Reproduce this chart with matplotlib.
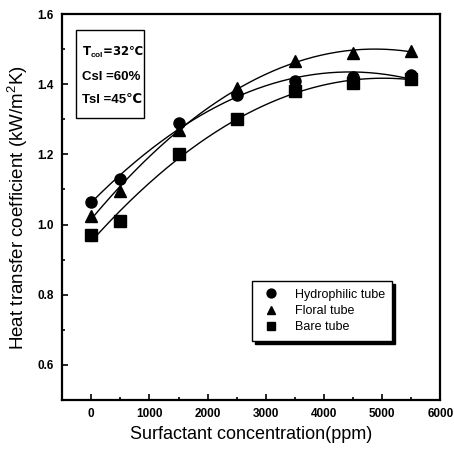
import numpy as np
import matplotlib
matplotlib.use("Agg")
import matplotlib.pyplot as plt
from matplotlib.ticker import MultipleLocator
from matplotlib.patches import Rectangle

plt.rcParams['font.family'] = ['Liberation Sans', 'DejaVu Sans']
plt.rcParams['mathtext.fontset'] = 'custom'
plt.rcParams['mathtext.rm'] = 'Liberation Sans'
plt.rcParams['mathtext.bf'] = 'Liberation Sans:bold'

conc = [0, 500, 1500, 2500, 3500, 4500, 5500]
hydrophilic = [1.063, 1.13, 1.29, 1.37, 1.41, 1.42, 1.425]
floral = [1.025, 1.095, 1.27, 1.39, 1.465, 1.49, 1.495]
bare = [0.97, 1.01, 1.20, 1.30, 1.38, 1.405, 1.415]
series_names = ["Hydrophilic tube", "Floral tube", "Bare tube"]
markers = ["o", "^", "s"]
conditions = ["T$_{\\mathbf{col}}$=32℃", "Csl =60%", "Tsl =45℃"]

fig = plt.figure(figsize=(4.54, 4.55), dpi=100)
ax = fig.add_axes([0.137, 0.121, 0.833, 0.848])

xs = np.linspace(0, 5500, 200)
handles = []
for vals, m, name in zip([hydrophilic, floral, bare], markers, series_names):
    # smooth trend line through the measured points
    coef = np.polyfit(conc, vals, 2)
    ax.plot(xs, np.polyval(coef, xs), color='black', lw=1.0)
    h, = ax.plot(conc, vals, linestyle='none', marker=m, color='black', ms=8, label=name)
    handles.append(h)

ax.set_xlim(-500, 6000)
ax.set_ylim(0.5, 1.6)
ax.set_xticks(range(0, 6001, 1000))
ax.set_yticks([0.6, 0.8, 1.0, 1.2, 1.4, 1.6])
ax.xaxis.set_minor_locator(MultipleLocator(500))
ax.yaxis.set_minor_locator(MultipleLocator(0.1))
ax.tick_params(which='both', direction='in', labelsize=8.5, width=1.2)
ax.tick_params(which='major', length=4, pad=6)
ax.tick_params(which='minor', length=2.5)
for lab in ax.get_xticklabels() + ax.get_yticklabels():
    lab.set_fontweight('bold')
for sp in ax.spines.values():
    sp.set_linewidth(1.6)

ax.set_xlabel("Surfactant concentration(ppm)", fontsize=13, labelpad=4)
ax.set_ylabel("Heat transfer coefficient (kW/m$^2$K)", fontsize=13.5, labelpad=5)

# conditions box
ax.add_patch(Rectangle((0.037, 0.731), 0.179, 0.228, transform=ax.transAxes,
                       fc='white', ec='black', lw=1.0, zorder=5))
for i, (txt, yy) in enumerate(zip(conditions, [0.902, 0.837, 0.777])):
    fam = 'DejaVu Sans' if i == 0 else ['Liberation Sans', 'DejaVu Sans']
    ax.text(0.053, yy, txt, transform=ax.transAxes, fontsize=9.5 if i else 8.5,
            fontweight='bold', family=fam, va='center', ha='left', zorder=6)

leg = ax.legend(handles=handles, loc='lower right', bbox_to_anchor=(0.889, 0.137),
                fontsize=9, frameon=True, fancybox=False, edgecolor='black',
                shadow={'color': 'black', 'alpha': 1.0}, handletextpad=1.0,
                borderpad=0.6, labelspacing=0.35, handlelength=1.8, markerscale=0.8)
leg.get_frame().set_linewidth(1.0)

fig.savefig("out.png", dpi=100)
